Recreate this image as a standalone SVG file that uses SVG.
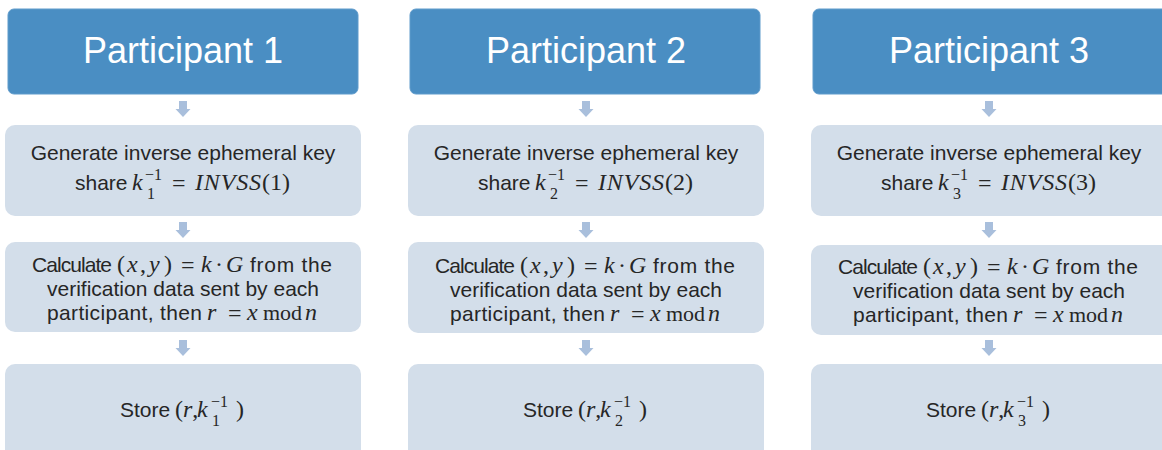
<svg xmlns="http://www.w3.org/2000/svg" width="1162" height="450" viewBox="0 0 1162 450">
<style>
.hdr{fill:#4a8ec3;stroke:#5f9bcb;stroke-width:1}
.box{fill:#d3deea}
.arr{fill:#a9bfdc}
.ht{font-family:"Liberation Sans",Arial,sans-serif;font-size:36px;fill:#ffffff;text-anchor:middle}
.t{font-family:"Liberation Sans",Arial,sans-serif;font-size:21px;fill:#262626}
.c{text-anchor:middle}
.m{font-family:"Liberation Serif","Times New Roman",serif;font-size:24px;fill:#262626}
.i{font-style:italic}
.s{font-family:"Liberation Serif","Times New Roman",serif;font-size:16px;fill:#262626}
</style>
<defs>
<polygon id="darrow" class="arr" points="-4,0 4,0 4,8 7.5,8 0,16 -7.5,8 -4,8"/>
</defs>
<g id="connectors">
<use href="#darrow" x="183" y="101"/>
<use href="#darrow" x="183" y="222"/>
<use href="#darrow" x="183" y="340"/>
<use href="#darrow" x="586" y="101"/>
<use href="#darrow" x="586" y="222"/>
<use href="#darrow" x="586" y="340"/>
<use href="#darrow" x="989" y="101"/>
<use href="#darrow" x="989" y="222"/>
<use href="#darrow" x="989" y="340"/>
</g>

<g id="col1">
<g id="p1-header">
<rect class="hdr" x="8" y="9" width="350" height="85" rx="6"/>
<text class="ht" x="183" y="63">Participant 1</text>
</g>
<g id="p1-gen">
<rect class="box" x="5" y="125" width="356" height="91" rx="10"/>
<text class="t c" x="183" y="160">Generate inverse ephemeral key</text>
<text class="t" x="75" y="190">share</text>
<text class="m i" x="132" y="190">k</text>
<text class="s" x="145" y="180">−1</text>
<text class="s" x="147" y="199">1</text>
<text class="m" x="172" y="191">=</text>
<text class="m i" x="195" y="190" textLength="66">INVSS</text>
<text class="m" x="262" y="190">(1)</text>
</g>
<g id="p1-calc">
<rect class="box" x="5" y="242" width="356" height="90" rx="10"/>
<text class="t" x="32" y="272" textLength="80">Calculate</text>
<text class="m" y="272"><tspan x="117">(</tspan><tspan class="i" x="127">x</tspan><tspan x="140">,</tspan><tspan class="i" x="149">y</tspan><tspan x="164">)</tspan></text>
<text class="m" x="181" y="273">=</text>
<text class="m i" x="201" y="272">k</text>
<text class="m" x="215" y="272">·</text>
<text class="m i" x="226" y="272">G</text>
<text class="t" x="250" y="272" textLength="82">from the</text>
<text class="t c" x="183" y="296">verification data sent by each</text>
<text class="t" x="47" y="320" textLength="155">participant, then</text>
<text class="m i" x="207" y="320">r</text>
<text class="m" x="228" y="321">=</text>
<text class="m i" x="247" y="320">x</text>
<text class="m" x="263" y="320" style="font-size:22px">mod</text>
<text class="m i" x="305" y="320">n</text>
</g>
<g id="p1-store">
<rect class="box" x="5" y="364" width="356" height="100" rx="10"/>
<text class="t" x="120" y="417">Store</text>
<text class="m" x="175" y="417">(<tspan class="i">r</tspan>,</text>
<text class="m i" x="197" y="417">k</text>
<text class="s" x="211" y="407">−1</text>
<text class="s" x="212" y="426">1</text>
<text class="m" x="236" y="417">)</text>
</g>
</g>

<g id="col2" transform="translate(403,0)">
<g id="p2-header">
<rect class="hdr" x="7" y="9" width="350" height="85" rx="6"/>
<text class="ht" x="183" y="63">Participant 2</text>
</g>
<g id="p2-gen">
<rect class="box" x="5" y="125" width="356" height="91" rx="10"/>
<text class="t c" x="183" y="160">Generate inverse ephemeral key</text>
<text class="t" x="75" y="190">share</text>
<text class="m i" x="132" y="190">k</text>
<text class="s" x="145" y="180">−1</text>
<text class="s" x="147" y="199">2</text>
<text class="m" x="172" y="191">=</text>
<text class="m i" x="195" y="190" textLength="66">INVSS</text>
<text class="m" x="262" y="190">(2)</text>
</g>
<g id="p2-calc">
<rect class="box" x="5" y="242" width="356" height="91" rx="10"/>
<text class="t" x="32" y="273" textLength="80">Calculate</text>
<text class="m" y="273"><tspan x="117">(</tspan><tspan class="i" x="127">x</tspan><tspan x="140">,</tspan><tspan class="i" x="149">y</tspan><tspan x="164">)</tspan></text>
<text class="m" x="181" y="274">=</text>
<text class="m i" x="201" y="273">k</text>
<text class="m" x="215" y="273">·</text>
<text class="m i" x="226" y="273">G</text>
<text class="t" x="250" y="273" textLength="82">from the</text>
<text class="t c" x="183" y="297">verification data sent by each</text>
<text class="t" x="47" y="321" textLength="155">participant, then</text>
<text class="m i" x="207" y="321">r</text>
<text class="m" x="228" y="322">=</text>
<text class="m i" x="247" y="321">x</text>
<text class="m" x="263" y="321" style="font-size:22px">mod</text>
<text class="m i" x="305" y="321">n</text>
</g>
<g id="p2-store">
<rect class="box" x="5" y="364" width="356" height="100" rx="10"/>
<text class="t" x="120" y="417">Store</text>
<text class="m" x="175" y="417">(<tspan class="i">r</tspan>,</text>
<text class="m i" x="197" y="417">k</text>
<text class="s" x="211" y="407">−1</text>
<text class="s" x="212" y="426">2</text>
<text class="m" x="236" y="417">)</text>
</g>
</g>

<g id="col3" transform="translate(806,0)">
<g id="p3-header">
<rect class="hdr" x="7" y="9" width="360" height="85" rx="6"/>
<text class="ht" x="183" y="63">Participant 3</text>
</g>
<g id="p3-gen">
<rect class="box" x="5" y="125" width="366" height="91" rx="10"/>
<text class="t c" x="183" y="160">Generate inverse ephemeral key</text>
<text class="t" x="75" y="190">share</text>
<text class="m i" x="132" y="190">k</text>
<text class="s" x="145" y="180">−1</text>
<text class="s" x="147" y="199">3</text>
<text class="m" x="172" y="191">=</text>
<text class="m i" x="195" y="190" textLength="66">INVSS</text>
<text class="m" x="262" y="190">(3)</text>
</g>
<g id="p3-calc">
<rect class="box" x="5" y="245" width="366" height="90" rx="10"/>
<text class="t" x="32" y="274" textLength="80">Calculate</text>
<text class="m" y="274"><tspan x="117">(</tspan><tspan class="i" x="127">x</tspan><tspan x="140">,</tspan><tspan class="i" x="149">y</tspan><tspan x="164">)</tspan></text>
<text class="m" x="181" y="275">=</text>
<text class="m i" x="201" y="274">k</text>
<text class="m" x="215" y="274">·</text>
<text class="m i" x="226" y="274">G</text>
<text class="t" x="250" y="274" textLength="82">from the</text>
<text class="t c" x="183" y="298">verification data sent by each</text>
<text class="t" x="47" y="322" textLength="155">participant, then</text>
<text class="m i" x="207" y="322">r</text>
<text class="m" x="228" y="323">=</text>
<text class="m i" x="247" y="322">x</text>
<text class="m" x="263" y="322" style="font-size:22px">mod</text>
<text class="m i" x="305" y="322">n</text>
</g>
<g id="p3-store">
<rect class="box" x="5" y="364" width="366" height="100" rx="10"/>
<text class="t" x="120" y="417">Store</text>
<text class="m" x="175" y="417">(<tspan class="i">r</tspan>,</text>
<text class="m i" x="197" y="417">k</text>
<text class="s" x="211" y="407">−1</text>
<text class="s" x="212" y="426">3</text>
<text class="m" x="236" y="417">)</text>
</g>
</g>
</svg>
